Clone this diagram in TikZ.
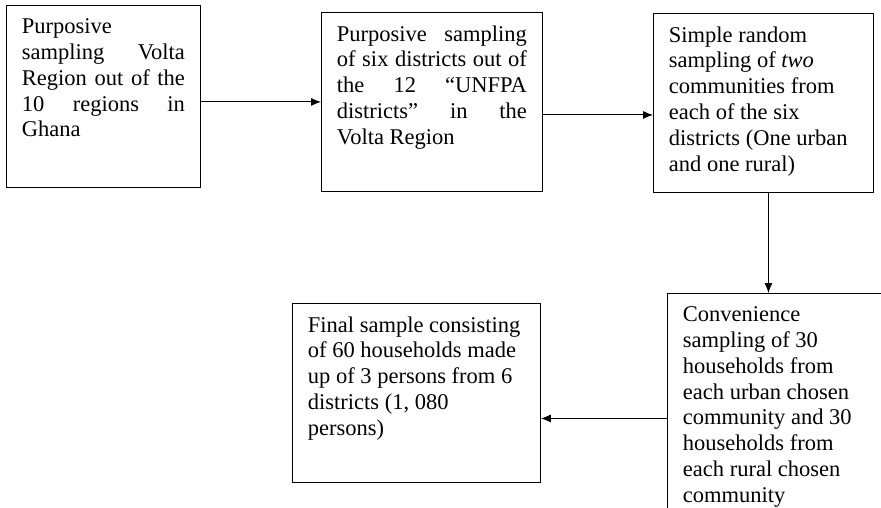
\documentclass[tikz,border=0pt]{standalone}
\usepackage{fontspec}
\setmainfont{Liberation Serif}
\usepackage{tikz}
\usetikzlibrary{arrows.meta}
\hyphenpenalty=10000
\exhyphenpenalty=10000

\begin{document}
\begin{tikzpicture}[x=1pt, y=1pt,
  stage/.style={draw, line width=0.9pt, anchor=north west, inner xsep=15.5pt, inner ysep=13pt,
    font=\fontsize{22.5}{25.9}\selectfont},
  flow/.style={line width=0.9pt, -{Latex[length=10pt, width=8pt]}}]
\useasboundingbox (0,0) rectangle (881,-508);
\clip (0,0) rectangle (881,-508);

% top row
\node[stage] (b1) at (6,-5) {\parbox[t][156pt][t]{163pt}{Purposive\\ sampling Volta\linebreak Region out of the\linebreak 10 regions in\linebreak Ghana}};
\node[stage] (b2) at (321,-12) {\parbox[t][153pt][t]{190pt}{Purposive sampling\linebreak of six districts out of\linebreak the 12 “UNFPA\linebreak districts” in the\linebreak Volta Region}};
\node[stage] (b3) at (653,-13) {\parbox[t][153pt][t]{189pt}{\raggedright Simple random\\ sampling of \textit{two}\\ communities from\\ each of the six\\ districts (One urban\\ and one rural)}};

% bottom row
\node[stage] (b4) at (667,-293) {\parbox[t][224pt][t]{199pt}{\raggedright Convenience\\ sampling of 30\\ households from\\ each urban chosen\\ community and 30\\ households from\\ each rural chosen\\ community}};
\node[stage] (b5) at (292,-303) {\parbox[t][153pt][t]{217pt}{\raggedright Final sample consisting\\ of 60 households made\\ up of 3 persons from 6\\ districts (1, 080\\ persons)}};

% connectors
\coordinate (a2) at ([yshift=-13pt]b2.east);
\coordinate (a3) at ([xshift=5pt]b3.south);
\draw[flow] (b1.east |- b2.west) -- (b2.west);
\draw[flow] (a2) -- (a2 -| b3.west);
\draw[flow] (a3) -- (a3 |- b4.north);
\draw[flow] (b4.west) -- (b4.west -| b5.east);

\end{tikzpicture}
\end{document}
